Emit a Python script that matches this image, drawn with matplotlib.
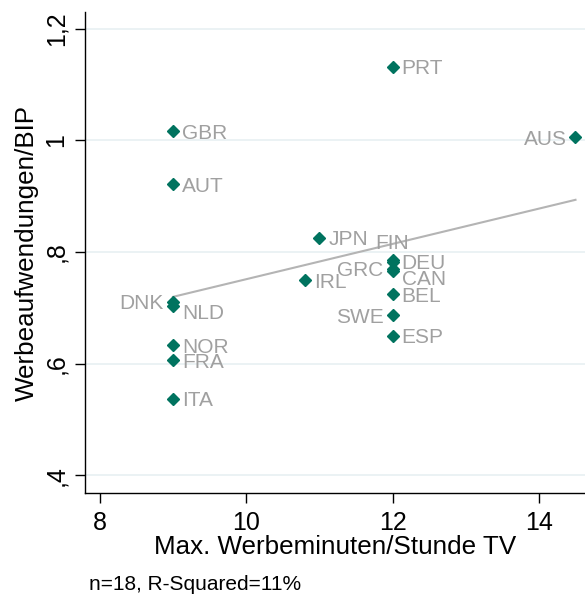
import numpy as np
import matplotlib
matplotlib.use("Agg")
import matplotlib.pyplot as plt

plt.rcParams['font.family'] = ['Liberation Sans', 'DejaVu Sans']

countries = ["PRT", "GBR", "AUT", "AUS", "JPN", "FIN", "DEU", "GRC", "CAN",
             "IRL", "DNK", "NLD", "BEL", "SWE", "ESP", "NOR", "FRA", "ITA"]
minutes = [12, 9, 9, 14.5, 11, 12, 12, 12, 12, 10.8, 9, 9, 12, 12, 12, 9, 9, 9]
ad_gdp = [1.132, 1.016, 0.921, 1.006, 0.826, 0.785, 0.783, 0.770, 0.766,
          0.750, 0.711, 0.704, 0.724, 0.687, 0.650, 0.633, 0.606, 0.537]
# label clock positions (Stata style)
label_pos = {"AUS": 9, "DNK": 9, "GRC": 9, "SWE": 9, "FIN": 12, "NLD": 4, "CAN": 4}

x_ticks = [8, 10, 12, 14]
y_ticks = [0.4, 0.6, 0.8, 1.0, 1.2]
y_ticklabels = [",4", ",6", ",8", "1", "1,2"]

marker_color = "#00735F"
label_color = "#A0A0A0"

fig = plt.figure(figsize=(5.85, 5.95), dpi=100)
ax = fig.add_axes([0.145, 0.171, 0.855, 0.809])

for yv in y_ticks:
    ax.axhline(yv, color="#E6EFF1", lw=1.1, zorder=0)

x = np.array(minutes)
y = np.array(ad_gdp)
b, a = np.polyfit(x, y, 1)
xl = np.array([x.min(), x.max()])
ax.plot(xl, a + b * xl, color="#B4B4B4", lw=1.5, zorder=1)

ax.plot(x, y, linestyle="none", marker="D", ms=6.6, color=marker_color,
        mec=marker_color, zorder=3)

for c, xv, yv in zip(countries, minutes, ad_gdp):
    pos = label_pos.get(c, 3)
    if pos == 3:
        off, ha, va = (6.5, -1.5), "left", "center"
    elif pos == 9:
        off, ha, va = (-6.5, -1.5), "right", "center"
    elif pos == 12:
        off, ha, va = (0, 5), "center", "bottom"
    elif pos == 4:
        off, ha, va = (6.5, -6), "left", "center"
    ax.annotate(c, (xv, yv), xytext=off, textcoords="offset points",
                ha=ha, va=va, fontsize=15, color=label_color, zorder=2)

ax.set_xlim(7.795, 14.63)
ax.set_ylim(0.368, 1.23)
ax.set_xticks(x_ticks)
ax.set_xticklabels([str(t) for t in x_ticks])
ax.set_yticks(y_ticks)
ax.set_yticklabels(y_ticklabels, rotation=90, va="center")
ax.tick_params(axis="both", direction="out", length=7, width=1, color="black",
               labelsize=18)
ax.tick_params(axis="x", pad=6)
ax.tick_params(axis="y", pad=5)
for s in ["top", "right"]:
    ax.spines[s].set_visible(False)
for s in ["left", "bottom"]:
    ax.spines[s].set_linewidth(1.0)

ax.set_xlabel("Max. Werbeminuten/Stunde TV", fontsize=18.7, labelpad=0)
ax.set_ylabel("Werbeaufwendungen/BIP", fontsize=18.7, labelpad=4)

fig.text(0.152, 0.002, "n=18, R-Squared=11%", fontsize=15, ha="left", va="bottom")

fig.savefig("out.png", dpi=100)
